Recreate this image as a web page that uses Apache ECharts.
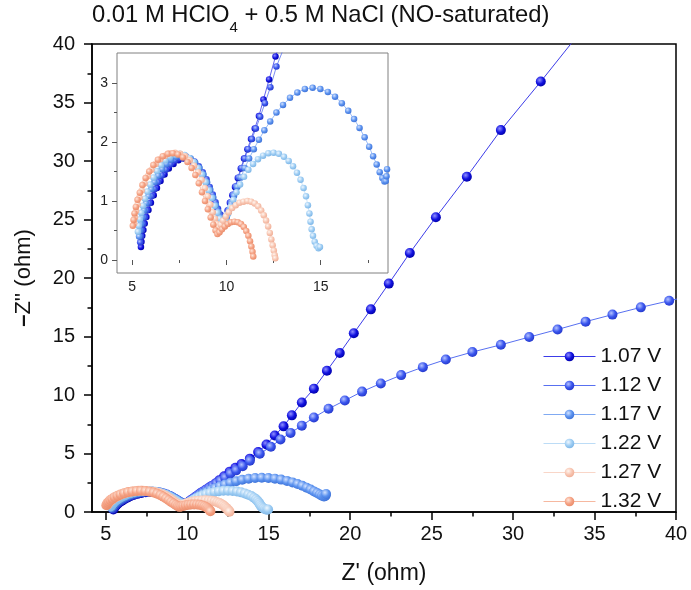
<!DOCTYPE html>
<html><head><meta charset="utf-8">
<script src="https://cdn.jsdelivr.net/npm/echarts@6/dist/echarts.min.js"></script>
<style>html,body{margin:0;padding:0;background:#fff}#c{width:691px;height:590px}</style>
</head><body><div id="c"></div>
<script>
const seriesNames = ['1.07 V','1.12 V','1.17 V','1.22 V','1.27 V','1.32 V'];

const s107 = [[5.46,0.22],[5.49,0.31],[5.53,0.41],[5.59,0.51],[5.66,0.62],[5.75,0.73],[5.86,0.85],[5.99,0.97],[6.14,1.10],[6.31,1.22],[6.50,1.34],[6.71,1.45],[6.94,1.55],[7.19,1.63],[7.45,1.69],[7.71,1.72],[7.97,1.71],[8.22,1.66],[8.46,1.58],[8.68,1.48],[8.88,1.36],[9.06,1.23],[9.22,1.10],[9.37,0.97],[9.51,0.86],[9.64,0.76],[9.76,0.69],[9.87,0.66],
 [9.95,0.72],[10.06,0.84],[10.18,0.97],[10.31,1.10],[10.45,1.24],[10.60,1.39],[10.76,1.55],[10.93,1.72],[11.11,1.88],[11.30,2.05],[11.50,2.23],[11.72,2.44],[11.96,2.72],[12.26,3.06],[12.60,3.45],[12.95,3.78],[13.33,4.10],[13.84,4.56],[14.35,5.12],[14.86,5.77],[15.37,6.54],[15.91,7.32],[16.42,8.26],[17.03,9.36],[17.77,10.54],[18.57,12.07],[19.36,13.59],[20.22,15.28],[21.27,17.32],[22.37,19.52],[23.66,22.14],[25.26,25.19],[27.16,28.66],[29.25,32.64],[31.70,36.79],[34.40,41.50]];

const s112 = [[5.42,0.30],[5.46,0.40],[5.51,0.50],[5.58,0.61],[5.66,0.72],[5.76,0.84],[5.88,0.96],[6.02,1.08],[6.18,1.20],[6.36,1.32],[6.56,1.43],[6.78,1.53],[7.02,1.62],[7.27,1.69],[7.53,1.73],[7.79,1.74],[8.05,1.72],[8.30,1.67],[8.53,1.59],[8.74,1.49],[8.94,1.37],[9.11,1.24],[9.27,1.11],[9.42,0.98],[9.55,0.87],[9.68,0.77],[9.79,0.70],[9.89,0.67],
 [9.99,0.73],[10.10,0.85],[10.22,0.98],[10.35,1.11],[10.49,1.25],[10.64,1.40],[10.80,1.56],[10.97,1.72],[11.15,1.88],[11.35,2.05],[11.56,2.23],[11.79,2.43],[12.04,2.66],[12.33,2.93],[12.65,3.28],[13.00,3.56],[13.40,3.92],[13.84,4.38],[14.45,4.98],[15.13,5.57],[15.72,6.20],[16.34,6.76],[17.03,7.38],[17.77,8.08],[18.67,8.82],[19.67,9.53],[20.73,10.29],[21.88,10.99],[23.13,11.70],[24.46,12.38],[25.87,13.03],[27.50,13.67],[29.25,14.29],[30.99,14.95],[32.73,15.60],[34.45,16.27],[36.10,16.87],[37.84,17.49],[39.58,18.05],[41.32,18.60]];

const s117 = [[5.36,0.40],[5.40,0.50],[5.46,0.61],[5.53,0.72],[5.62,0.84],[5.73,0.96],[5.86,1.08],[6.01,1.20],[6.18,1.32],[6.37,1.43],[6.58,1.54],[6.81,1.63],[7.06,1.70],[7.32,1.75],[7.58,1.77],[7.84,1.76],[8.10,1.72],[8.34,1.65],[8.57,1.56],[8.78,1.45],[8.97,1.32],[9.14,1.19],[9.30,1.06],[9.44,0.93],[9.57,0.82],[9.69,0.72],[9.80,0.65],[9.90,0.62],
 [10.00,0.70],[10.12,0.82],[10.25,0.95],[10.40,1.09],[10.57,1.24],[10.76,1.40],[10.97,1.56],[11.20,1.72],[11.45,1.88],[11.72,2.04],[12.01,2.20],[12.32,2.35],[12.65,2.50],[13.00,2.63],[13.37,2.75],[13.76,2.84],[14.16,2.90],[14.57,2.92],[14.98,2.90],[15.38,2.85],[15.76,2.77],[16.12,2.66],[16.46,2.53],[16.77,2.39],[17.06,2.24],[17.33,2.08],[17.57,1.92],[17.78,1.76],[17.97,1.62],[18.13,1.49],[18.27,1.39],[18.38,1.33],[18.45,1.34],[18.49,1.42],[18.52,1.54]];

const s122 = [[5.30,0.48],[5.34,0.58],[5.40,0.69],[5.47,0.80],[5.56,0.92],[5.67,1.04],[5.80,1.16],[5.95,1.28],[6.12,1.40],[6.31,1.51],[6.52,1.61],[6.75,1.69],[7.00,1.75],[7.26,1.79],[7.52,1.80],[7.78,1.78],[8.03,1.73],[8.27,1.66],[8.49,1.56],[8.70,1.45],[8.89,1.32],[9.06,1.18],[9.22,1.05],[9.37,0.92],[9.51,0.80],[9.64,0.70],[9.76,0.63],[9.86,0.60],
 [9.96,0.67],[10.08,0.78],[10.21,0.90],[10.36,1.02],[10.53,1.15],[10.72,1.28],[10.93,1.41],[11.16,1.53],[11.41,1.63],[11.67,1.71],[11.94,1.77],[12.22,1.81],[12.50,1.82],[12.78,1.80],[13.05,1.75],[13.30,1.68],[13.53,1.59],[13.74,1.48],[13.93,1.36],[14.09,1.22],[14.22,1.08],[14.32,0.93],[14.40,0.79],[14.46,0.65],[14.52,0.52],[14.59,0.41],[14.68,0.31],[14.78,0.24],[14.88,0.20],[14.96,0.22]];

const s127 = [[5.10,0.62],[5.14,0.72],[5.20,0.83],[5.28,0.94],[5.38,1.06],[5.50,1.18],[5.65,1.30],[5.82,1.42],[6.02,1.53],[6.24,1.63],[6.48,1.71],[6.74,1.77],[7.00,1.81],[7.27,1.82],[7.54,1.80],[7.80,1.76],[8.05,1.69],[8.28,1.60],[8.49,1.49],[8.68,1.36],[8.85,1.22],[9.00,1.08],[9.14,0.94],[9.27,0.81],[9.39,0.70],[9.50,0.61],[9.60,0.56],
 [9.70,0.60],[9.82,0.67],[9.96,0.74],[10.12,0.81],[10.30,0.88],[10.49,0.93],[10.69,0.97],[10.90,0.99],[11.11,1.00],[11.31,0.99],[11.50,0.96],[11.68,0.91],[11.84,0.84],[11.98,0.76],[12.10,0.67],[12.21,0.57],[12.30,0.46],[12.38,0.35],[12.45,0.25],[12.51,0.16],[12.56,0.08],[12.59,0.03]];

const s132 = [[5.03,0.58],[5.07,0.68],[5.12,0.79],[5.19,0.90],[5.28,1.02],[5.40,1.14],[5.54,1.27],[5.71,1.39],[5.90,1.50],[6.12,1.61],[6.36,1.70],[6.62,1.76],[6.89,1.80],[7.16,1.81],[7.43,1.79],[7.69,1.74],[7.93,1.66],[8.15,1.56],[8.35,1.44],[8.53,1.30],[8.70,1.15],[8.86,1.00],[9.01,0.86],[9.16,0.72],[9.30,0.60],[9.42,0.50],[9.52,0.44],
 [9.63,0.47],[9.76,0.52],[9.91,0.57],[10.07,0.61],[10.24,0.64],[10.42,0.65],[10.60,0.64],[10.77,0.61],[10.92,0.56],[11.05,0.49],[11.16,0.41],[11.25,0.32],[11.32,0.23],[11.38,0.14],[11.42,0.06]];

const mainXTicks = [5,10,15,20,25,30,35,40];
const mainXMinor = [7.5,12.5,17.5,22.5,27.5,32.5,37.5];
const mainYTicks = [0,5,10,15,20,25,30,35,40];
const mainYMinor = [2.5,7.5,12.5,17.5,22.5,27.5,32.5,37.5];
const insetXTicks = [5,10,15];
const insetXMinor = [7.5,12.5,17.5];
const insetYTicks = [0,1,2,3];
const insetYMinor = [0.5,1.5,2.5];

const allData = [s107,s112,s117,s122,s127,s132];
const palette = [
  {base:'#1212e0', light:'#9090ff', dark:'#0000a6', line:'#3c3ce8'},
  {base:'#3a56ee', light:'#b4c2ff', dark:'#2436c8', line:'#5870f0'},
  {base:'#5b92ef', light:'#d2e2ff', dark:'#3c70d6', line:'#80aaf2'},
  {base:'#9ecdf3', light:'#eef7ff', dark:'#7ab4e6', line:'#bcdcf6'},
  {base:'#f8c6b2', light:'#fff5ef', dark:'#efac94', line:'#f9d6c8'},
  {base:'#f5a284', light:'#ffe6da', dark:'#e88a68', line:'#f6b8a0'}
];
function ball(p){
  return {type:'radial', x:0.38, y:0.35, r:0.7, colorStops:[
    {offset:0, color:p.light},{offset:0.55, color:p.base},{offset:1, color:p.dark}]};
}
const FF = "'Liberation Sans', Arial, sans-serif";

const series = [];
[0,1].forEach(g => {
  allData.forEach((d,i) => {
    series.push({
      type:'line', name:seriesNames[i], data:d,
      xAxisIndex:g, yAxisIndex:g,
      symbol:'circle', symbolSize: g===0 ? 10 : 6.5,
      showSymbol:true, clip:true,
      lineStyle:{width: g===0 ? 1 : 0.8, color:palette[i].line},
      itemStyle:{color:ball(palette[i])},
      emphasis:{disabled:true}, animation:false
    });
  });
});

function tickAxis(grid, min, max, pos, vals, len, color, width){
  return {type:'value', gridIndex:grid, min:min, max:max, position:pos,
    axisLine:{show:false}, splitLine:{show:false},
    axisTick:{show:true, customValues:vals, length:len, lineStyle:{color:color, width:width}},
    axisLabel:{show:false, customValues:vals}};
}

const chart = echarts.init(document.getElementById('c'), null, {renderer:'canvas'});
chart.setOption({
  animation:false,
  backgroundColor:'#fff',
  title:{
    left:92, top:3, padding:0,
    text:'{a|0.01 M HClO}{s|4}{a| + 0.5 M NaCl (NO-saturated)}',
    textStyle:{fontWeight:'normal', rich:{
      a:{fontFamily:FF, fontSize:23.8, fontWeight:'normal', lineHeight:32, verticalAlign:'top', color:'#111'},
      s:{fontFamily:FF, fontSize:15, fontWeight:'normal', lineHeight:15, verticalAlign:'bottom', color:'#111'}
    }}
  },
  legend:{
    data:seriesNames.map((n,i)=>({name:n, lineStyle:{color:palette[i].line, width:1}})),
    orient:'vertical', left:538, top:341,
    itemWidth:52, itemHeight:12, itemGap:8, selectedMode:false,
    textStyle:{fontFamily:FF, fontSize:21, color:'#111'}
  },
  grid:[
    {left:92, top:44, width:584, height:472.5, show:true, borderColor:'#000', borderWidth:1.5, backgroundColor:'transparent'},
    {left:117, top:53, width:271, height:220, show:true, borderColor:'#808080', borderWidth:1, backgroundColor:'#fff'}
  ],
  xAxis:[
    {type:'value', gridIndex:0, min:4.15, max:40, position:'bottom',
      axisLine:{show:true, lineStyle:{color:'#000', width:1.5}},
      axisTick:{show:true, customValues:mainXTicks, length:8, lineStyle:{color:'#000', width:1.5}},
      axisLabel:{customValues:mainXTicks, fontFamily:FF, fontSize:20, color:'#111', margin:12},
      splitLine:{show:false},
      name:"Z' (ohm)", nameLocation:'middle', nameGap:50,
      nameTextStyle:{fontFamily:FF, fontSize:23, color:'#111'}},
    {type:'value', gridIndex:1, min:4.19, max:18.57, position:'bottom',
      axisLine:{show:false},
      axisTick:{show:true, customValues:insetXTicks, length:5, lineStyle:{color:'#555', width:1}},
      axisLabel:{customValues:insetXTicks, fontFamily:FF, fontSize:14, color:'#222', margin:7},
      splitLine:{show:false}},
    tickAxis(0,4.15,40,'bottom',mainXMinor,4.5,'#000',1.5),
    tickAxis(1,4.19,18.57,'bottom',insetXMinor,3,'#555',1)
  ],
  yAxis:[
    {type:'value', gridIndex:0, min:0, max:40, position:'left',
      axisLine:{show:true, lineStyle:{color:'#000', width:1.5}},
      axisTick:{show:true, customValues:mainYTicks, length:8, lineStyle:{color:'#000', width:1.5}},
      axisLabel:{customValues:mainYTicks, fontFamily:FF, fontSize:20, color:'#111', margin:17},
      splitLine:{show:false},
      name:"{d|–}Z'' (ohm)", nameLocation:'middle', nameGap:57,
      nameTextStyle:{fontFamily:FF, fontSize:22, color:'#111', rich:{d:{fontFamily:FF, fontSize:22, fontWeight:'bold', color:'#111'}}}},
    {type:'value', gridIndex:1, min:-0.22, max:3.51, position:'left',
      axisLine:{show:false},
      axisTick:{show:true, customValues:insetYTicks, length:5, lineStyle:{color:'#555', width:1}},
      axisLabel:{customValues:insetYTicks, fontFamily:FF, fontSize:14, color:'#222', margin:9},
      splitLine:{show:false}},
    tickAxis(0,0,40,'left',mainYMinor,4.5,'#000',1.5),
    tickAxis(1,-0.22,3.51,'left',insetYMinor,3,'#555',1)
  ],
  series:series
});
</script></body></html>
